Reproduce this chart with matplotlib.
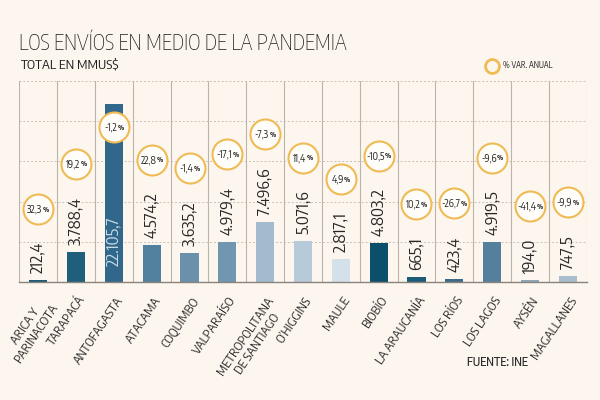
import matplotlib
matplotlib.use("Agg")
import matplotlib.pyplot as plt
from matplotlib.transforms import offset_copy

# ---- data ----
regions = ["ARICA Y\nPARINACOTA", "TARAPACÁ", "ANTOFAGASTA", "ATACAMA", "COQUIMBO",
           "VALPARAÍSO", "METROPOLITANA\nDE SANTIAGO", "O’HIGGINS", "MAULE", "BIOBÍO",
           "LA ARAUCANÍA", "LOS RÍOS", "LOS LAGOS", "AYSÉN", "MAGALLANES"]
values = [212.4, 3788.4, 22105.7, 4574.2, 3635.2, 4979.4, 7496.6, 5071.6, 2817.1,
          4803.2, 665.1, 423.4, 4919.5, 194.0, 747.5]
var_pct = [32.3, 19.2, -1.2, 22.8, -1.4, -17.1, -7.3, 11.4, 4.9, -10.5, 10.2, -26.7,
           -9.6, -41.4, -9.9]
grid_ticks = [5000, 10000, 15000, 20000, 25000]

bar_colors = ["#1d5b76", "#1f5f7c", "#30678a", "#52809f", "#6a90ab", "#7096b0",
              "#a2bbce", "#b6cad9", "#d4e0ea", "#0c4f6b", "#1c5b76", "#3b6b89",
              "#54809e", "#8ea6b8", "#a8bdcd"]

BG = "#fdf6ee"
RING = "#efbb55"
FONT = ["Encode Sans Condensed", "DejaVu Sans"]
plt.rcParams["font.family"] = FONT


def es_num(v, nd=1):
    s = f"{v:,.{nd}f}"
    return s.replace(",", "X").replace(".", ",").replace("X", ".")


fig = plt.figure(figsize=(6, 4), dpi=100, facecolor=BG)
ax = fig.add_axes([19.3 / 600, 1 - 282 / 400, (586.7 - 19.3) / 600, (282 - 81) / 400])
ax.set_facecolor(BG)
n = len(regions)
xs = list(range(n))
ax.set_xlim(-0.5, n - 0.5)
ax.set_ylim(0, grid_ticks[-1])

for g in grid_ticks:
    ax.axhline(g, color="#c9c1b8", lw=0.7, ls=(0, (2, 2)), zorder=0)
for i in range(n + 1):
    ax.axvline(i - 0.5, color="#bcb4ab", lw=0.8, zorder=0.5)

ax.bar(xs, values, width=0.48, color=bar_colors, zorder=2)

for s in ["left", "right", "top"]:
    ax.spines[s].set_visible(False)
ax.spines["bottom"].set_color("#8a837c")
ax.spines["bottom"].set_linewidth(1.0)
ax.set_xticks([])
ax.set_yticks([])

# value labels
VFS = 12
labels = []
ymax = grid_ticks[-1]
for x, v in zip(xs, values):
    if v > 0.8 * ymax:
        t = ax.text(x, 0, es_num(v), rotation=90, ha="center", va="bottom",
                    fontsize=VFS, color="#c9dce8", zorder=3,
                    transform=offset_copy(ax.transData, fig=fig, x=0, y=16, units="dots"))
        labels.append((t, True))
    else:
        t = ax.text(x, v, es_num(v), rotation=90, ha="center", va="bottom",
                    fontsize=VFS, color="#262626", zorder=3,
                    transform=offset_copy(ax.transData, fig=fig, x=0, y=7, units="dots"))
        labels.append((t, False))

# category labels
for x, name in zip(xs, regions):
    ax.text(x, 0, name, rotation=56, ha="right", va="top", rotation_mode="anchor",
            multialignment="center", fontsize=9.2, color="#2b2b2b", linespacing=1.05,
            transform=offset_copy(ax.transData, fig=fig, x=1, y=-12.5, units="dots"),
            clip_on=False)

fig.canvas.draw()
renderer = fig.canvas.get_renderer()
inv = ax.transData.inverted()
R = 15
for (t, inside), x, v, p in zip(labels, xs, values, var_pct):
    if inside:
        top_disp = ax.transData.transform((x, v))[1]
        cy = top_disp - 23
    else:
        bb = t.get_window_extent(renderer)
        cy = bb.y1 + 18 + R
    cx = ax.transData.transform((x, 0))[0]
    xd, yd = inv.transform((cx, cy))
    ax.plot([xd], [yd], marker="o", ms=2 * R * 72 / 100, mfc="#fffdf9", mec=RING,
            mew=1.5, zorder=5, clip_on=False)
    num = es_num(p)
    t1 = ax.text(xd, yd, num, ha="center", va="center", fontsize=7.2, color="#222222",
                 zorder=6)
    t2 = ax.text(xd, yd, "%", ha="center", va="center", fontsize=4.8, color="#222222",
                 zorder=6, fontweight="bold")
    w1 = t1.get_window_extent(renderer).width
    w2 = t2.get_window_extent(renderer).width
    gap = 0.5
    tot = w1 + w2 + gap
    t1.set_transform(offset_copy(ax.transData, fig=fig, x=-tot / 2 + w1 / 2, y=0, units="dots"))
    t2.set_transform(offset_copy(ax.transData, fig=fig, x=tot / 2 - w2 / 2, y=-0.5, units="dots"))

# titles
fig.text(19 / 600, 1 - 49.5 / 400, "LOS ENVÍOS EN MEDIO DE LA PANDEMIA", fontsize=15,
         color="#1e1e1e", va="baseline", ha="left", fontweight="light")
fig.text(20.5 / 600, 1 - 68.3 / 400, "TOTAL EN MMUS$", fontsize=9.6, color="#1e1e1e",
         va="baseline", ha="left")

# legend
fig.add_artist(plt.Line2D([492.3 / 600], [1 - 66 / 400], marker="o", ms=10, mfc=BG,
                          mec=RING, mew=2.0, transform=fig.transFigure))
fig.text(503.3 / 600, 1 - 66 / 400, "% VAR. ANUAL", fontsize=5.8, color="#1e1e1e",
         va="center", ha="left")

# source
fig.text(466.7 / 600, 1 - 362 / 400, "FUENTE: INE", fontsize=8.6, color="#2b2b2b",
         va="center", ha="left", fontweight="medium")

fig.savefig("out.png", dpi=100, facecolor=BG)
